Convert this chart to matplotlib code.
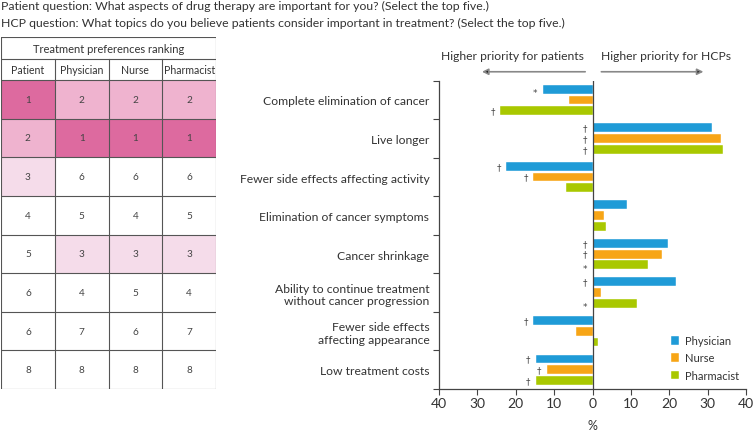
import numpy as np
import matplotlib
matplotlib.use("Agg")
import matplotlib.pyplot as plt
from matplotlib.patches import Rectangle

plt.rcParams['font.family'] = ['Lato', 'DejaVu Sans']

# chart data
topics = ['Complete elimination of cancer', 'Live longer',
          'Fewer side effects affecting activity', 'Elimination of cancer symptoms',
          'Cancer shrinkage', 'Ability to continue treatment\nwithout cancer progression',
          'Fewer side effects\naffecting appearance', 'Low treatment costs']
physician = [-13, 31.2, -22.5, 8.9, 19.8, 21.8, -15.4, -14.8]
nurse = [-6, 33.6, -15.4, 3.0, 18.2, 2.3, -4.3, -11.9]
pharmacist = [-24, 33.9, -6.9, 3.5, 14.5, 11.7, 1.4, -14.8]
sig_physician = ['*', '†', '†', '', '†', '†', '†', '†']
sig_nurse = ['', '†', '†', '', '†', '', '', '†']
sig_pharmacist = ['†', '†', '', '', '*', '*', '', '†']

# table data (ranks)
table_cols = ['Patient', 'Physician', 'Nurse', 'Pharmacist']
rank_patient = [1, 2, 3, 4, 5, 6, 6, 8]
rank_physician = [2, 1, 6, 5, 3, 4, 7, 8]
rank_nurse = [2, 1, 6, 4, 3, 5, 6, 8]
rank_pharmacist = [2, 1, 6, 5, 3, 4, 7, 8]

q1 = 'Patient question: What aspects of drug therapy are important for you? (Select the top five.)'
q2 = 'HCP question: What topics do you believe patients consider important in treatment? (Select the top five.)'

series = [('Physician', physician, sig_physician, '#1f9bd7'),
          ('Nurse', nurse, sig_nurse, '#f7a516'),
          ('Pharmacist', pharmacist, sig_pharmacist, '#a9c800')]
rank_colors = {1: '#dd6a9f', 2: '#efb3cf', 3: '#f5dcea'}

W, H = 753, 431
fig = plt.figure(figsize=(W / 100, H / 100), dpi=100)
txt = '#333333'

def fbox(x0, y0, x1, y1):
    # pixel box (top-left origin) -> figure fraction
    return [x0 / W, 1 - y1 / H, (x1 - x0) / W, (y1 - y0) / H]

fig.text(1 / W, 1 - 0.5 / H, q1, ha='left', va='top', fontsize=8.85, color=txt)
fig.text(1 / W, 1 - 17.5 / H, q2, ha='left', va='top', fontsize=8.85, color=txt)

# ---- chart ----
ax = fig.add_axes(fbox(439, 81.7, 746, 390))
n = len(topics)
y = np.arange(n)
off = 0.28
h = 0.23
for k, (name, vals, sig, col) in enumerate(series):
    yy = y + (k - 1) * off
    ax.barh(yy, vals, height=h, color=col, label=name, edgecolor='white', linewidth=0.3)
    for yi, v, s in zip(yy, vals, sig):
        if not s:
            continue
        xs = v - 1.4 if v < 0 else -1.4
        dy = 0.09 if s == '*' else 0
        ax.text(xs, yi + dy, s, ha='right', va='center', fontsize=6.4, color='#444444',
                family='DejaVu Sans')

ax.set_xlim(-40, 40)
ax.set_ylim(n - 0.5, -0.5)
ax.axvline(0, color='#444444', lw=0.9)
ax.set_xticks(np.arange(-40, 41, 10))
ax.set_xticklabels([str(abs(t)) for t in range(-40, 41, 10)], fontsize=10, color=txt)
ax.set_yticks(np.arange(-0.5, n, 1))
ax.set_yticklabels([])
ax.set_yticks(y, minor=True)
ax.set_yticklabels(topics, minor=True, fontsize=8.7, color=txt, ha='right')
ax.tick_params(axis='y', which='minor', length=0, pad=7)
ax.tick_params(axis='y', which='major', length=4, color='#444444')
ax.tick_params(axis='x', length=4, color='#444444', pad=2)
for lbl in ax.get_yticklabels(minor=True):
    lbl.set_multialignment('right')
    lbl.set_linespacing(1.15)
for s in ['top', 'right']:
    ax.spines[s].set_visible(False)
for s in ['left', 'bottom']:
    ax.spines[s].set_color('#444444')
    ax.spines[s].set_linewidth(0.9)
ax.set_xlabel('%', fontsize=9, color=txt, labelpad=7)

tr = ('data', 'axes fraction')
ax.annotate('', xy=(-28.8, 1.029), xytext=(-1.9, 1.029), xycoords=tr, textcoords=tr,
            annotation_clip=False,
            arrowprops=dict(arrowstyle='-|>', color='#888888', fc='#222222', lw=1.2,
                            mutation_scale=9, shrinkA=0, shrinkB=0))
ax.annotate('', xy=(28.9, 1.029), xytext=(2.3, 1.029), xycoords=tr, textcoords=tr,
            annotation_clip=False,
            arrowprops=dict(arrowstyle='-|>', color='#888888', fc='#222222', lw=1.2,
                            mutation_scale=9, shrinkA=0, shrinkB=0))
ax.text(-20.8, 1.081, 'Higher priority for patients', transform=ax.get_xaxis_transform(),
        ha='center', va='center', fontsize=8.7, color=txt)
ax.text(19.1, 1.081, 'Higher priority for HCPs', transform=ax.get_xaxis_transform(),
        ha='center', va='center', fontsize=8.7, color=txt)

leg = ax.legend(loc='lower right', bbox_to_anchor=(1.01, -0.005), frameon=False,
                fontsize=8, handlelength=0.75, handleheight=0.75, handletextpad=0.5,
                labelspacing=0.55)
for t in leg.get_texts():
    t.set_color(txt)

# ---- table ----
tax = fig.add_axes(fbox(1, 38, 216, 390))
ncol = len(table_cols)
hdr = 0.545
ttl = 0.57
tax.set_xlim(0, ncol)
tax.set_ylim(n, -hdr - ttl)
tax.axis('off')
ranks = [rank_patient, rank_physician, rank_nurse, rank_pharmacist]
line = dict(color='#555555', lw=0.8)
for c, col_ranks in enumerate(ranks):
    for r, val in enumerate(col_ranks):
        fc = rank_colors.get(val, 'white')
        tax.add_patch(Rectangle((c, r), 1, 1, facecolor=fc, edgecolor='none'))
        tax.text(c + 0.5, r + 0.5, str(val), ha='center', va='center', fontsize=7.2, color='#444444')
    tax.text(c + 0.5, -hdr / 2, table_cols[c], ha='center', va='center', fontsize=7.6, color=txt)
tax.text(ncol / 2, -hdr - ttl / 2, 'Treatment preferences ranking', ha='center', va='center',
         fontsize=8, color=txt)
for r in range(n + 1):
    tax.plot([0, ncol], [r, r], **line)
tax.plot([0, ncol], [-hdr, -hdr], **line)
tax.plot([0, ncol], [-hdr - ttl, -hdr - ttl], **line)
for c in range(ncol + 1):
    top = -hdr - ttl if c in (0, ncol) else -hdr
    tax.plot([c, c], [top, n], **line)

fig.savefig('out.png', dpi=100)
